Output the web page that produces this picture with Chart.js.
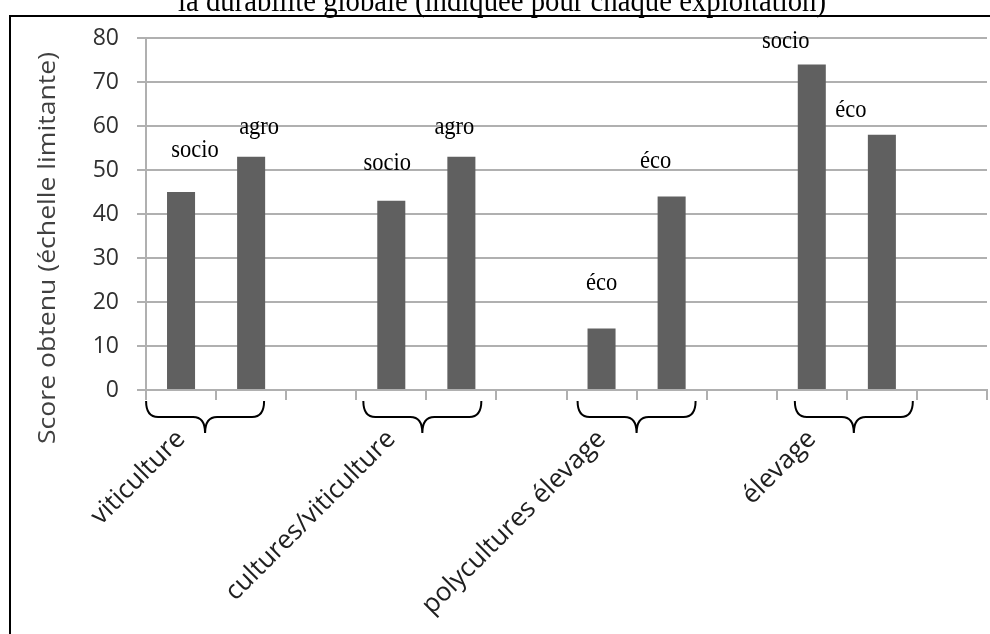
<!DOCTYPE html>
<html>
<head>
<meta charset="utf-8">
<script src="https://cdn.jsdelivr.net/npm/chart.js@4/dist/chart.umd.min.js"></script>
<style>
  body { margin: 0; background: #fff; }
  #wrap { width: 990px; height: 634px; }
</style>
</head>
<body>
<div id="wrap"><canvas id="chart" width="990" height="634"></canvas></div>
<script>
// Chart data
const chartTitle = "la durabilité globale (indiquée pour chaque exploitation)";
const yAxisTitle = "Score obtenu (échelle limitante)";
const slotLabels = ["viticulture", "", "", "cultures/viticulture", "", "", "polycultures élevage", "", "", "élevage", "", ""];
const scores = [45, 53, null, 43, 53, null, 14, 44, null, 74, 58, null];
const barTags = ["socio", "agro", "", "socio", "agro", "", "éco", "éco", "", "socio", "éco", ""];
const groupStarts = [0, 3, 6, 9];
const yTicks = [0, 10, 20, 30, 40, 50, 60, 70, 80];

// label offsets relative to each bar (center x, top y), in px
const tagOffsets = [[14, -35], [8, -23], null, [-4, -31], [-7, -23], null, [0, -38], [-16, -28], null, [-26, -16], [-31, -18], null];
const braceShift = [-11, -4, 0, 7];

const serif = "'Liberation Serif', 'Times New Roman', serif";
const sans = "'Open Sans', sans-serif";

const decorPlugin = {
  id: "decor",
  beforeDraw(chart) {
    const ctx = chart.ctx;
    ctx.save();
    ctx.strokeStyle = "#000";
    ctx.lineWidth = 2;
    ctx.beginPath();
    ctx.moveTo(10, 634);
    ctx.lineTo(10, 16);
    ctx.lineTo(990, 16);
    ctx.stroke();

    // title, partly cut by the top edge
    ctx.font = "31px " + serif;
    ctx.fillStyle = "#000";
    ctx.textAlign = "center";
    ctx.textBaseline = "alphabetic";
    const w = ctx.measureText(chartTitle).width;
    ctx.translate(502, 11);
    ctx.scale(648 / w, 1);
    ctx.fillText(chartTitle, 0, 0);
    ctx.restore();

    // y axis title
    ctx.save();
    ctx.font = "23px " + sans;
    ctx.fillStyle = "#404040";
    ctx.textAlign = "center";
    ctx.textBaseline = "middle";
    const tw = ctx.measureText(yAxisTitle).width;
    ctx.translate(48, 248);
    ctx.rotate(-Math.PI / 2);
    ctx.scale(392 / tw, 1);
    ctx.fillText(yAxisTitle, 0, 0);
    ctx.restore();
  },
  afterDraw(chart) {
    const ctx = chart.ctx;
    const xs = chart.scales.x;
    const meta = chart.getDatasetMeta(0);
    const slotW = xs.getPixelForValue(1) - xs.getPixelForValue(0);

    // braces under each pair of bars
    ctx.save();
    ctx.strokeStyle = "#000";
    ctx.lineWidth = 2;
    groupStarts.forEach((g, i) => {
      const c = xs.getPixelForValue(g) + slotW / 2 + braceShift[i];
      const x0 = c - 59, x1 = c + 59;
      const top = 401, mid = 417, tip = 433, r = 12;
      ctx.beginPath();
      ctx.moveTo(x0, top);
      ctx.quadraticCurveTo(x0, mid, x0 + r, mid);
      ctx.lineTo(c - r, mid);
      ctx.quadraticCurveTo(c, mid, c, tip);
      ctx.quadraticCurveTo(c, mid, c + r, mid);
      ctx.lineTo(x1 - r, mid);
      ctx.quadraticCurveTo(x1, mid, x1, top);
      ctx.stroke();
    });
    ctx.restore();

    // tags above bars
    ctx.save();
    ctx.font = "25px " + serif;
    ctx.fillStyle = "#000";
    ctx.textAlign = "center";
    ctx.textBaseline = "alphabetic";
    meta.data.forEach((bar, i) => {
      if (!barTags[i] || scores[i] == null) return;
      const off = tagOffsets[i];
      ctx.save();
      ctx.translate(bar.x + off[0], bar.y + off[1]);
      ctx.scale(0.9, 1);
      ctx.fillText(barTags[i], 0, 0);
      ctx.restore();
    });
    ctx.restore();
  }
};

new Chart(document.getElementById("chart"), {
  type: "bar",
  data: {
    labels: slotLabels,
    datasets: [{
      data: scores,
      backgroundColor: "#606060",
      barPercentage: 0.4,
      categoryPercentage: 1
    }]
  },
  options: {
    responsive: false,
    animation: false,
    layout: { padding: { left: 0, right: 3, top: 38, bottom: 0 } },
    plugins: {
      legend: { display: false },
      tooltip: { enabled: false }
    },
    scales: {
      x: {
        offset: true,
        grid: {
          offset: true,
          drawOnChartArea: false,
          drawTicks: true,
          tickLength: 10,
          color: "#b0b0b0",
          lineWidth: 2
        },
        border: { color: "#b0b0b0", width: 2 },
        ticks: {
          autoSkip: false,
          minRotation: 45,
          maxRotation: 45,
          padding: 24,
          labelOffset: 0,
          color: "#202020",
          font: { family: sans, size: 26 }
        },
        afterFit(scale) {
          scale.height = 244;
          scale.paddingLeft = 0;
          scale.paddingRight = 0;
        }
      },
      y: {
        min: 0,
        max: 80,
        afterBuildTicks(scale) { scale.ticks = yTicks.map(v => ({ value: v })); },
        grid: {
          color: "#b0b0b0",
          lineWidth: 2,
          tickLength: 9
        },
        border: { color: "#b0b0b0", width: 2 },
        ticks: {
          padding: 18,
          color: "#303030",
          font: { family: sans, size: 23 }
        },
        afterFit(scale) { scale.width = 146; }
      }
    }
  },
  plugins: [decorPlugin]
});
</script>
</body>
</html>
